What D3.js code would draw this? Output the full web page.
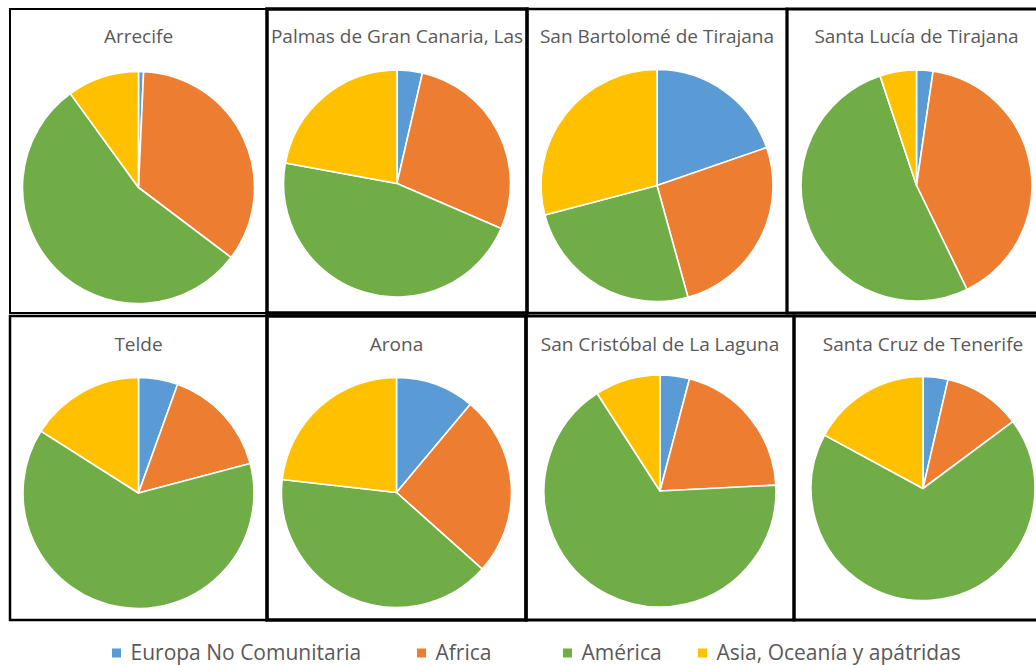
<!DOCTYPE html>
<html>
<head>
<meta charset="utf-8">
<script src="https://cdn.jsdelivr.net/npm/d3@7"></script>
<style>
  body { margin: 0; background: #fff; }
  svg { display: block; font-family: "Open Sans", "Noto Sans", sans-serif; }
</style>
</head>
<body>
<svg id="pies" width="1036" height="665"></svg>
<script>
// Municipalities (one pie each, reading order)
var municipios = ["Arrecife", "Palmas de Gran Canaria, Las", "San Bartolomé de Tirajana",
  "Santa Lucía de Tirajana", "Telde", "Arona", "San Cristóbal de La Laguna",
  "Santa Cruz de Tenerife"];

// Share (%) of each origin group per municipality
var europa  = [0.7, 3.6, 19.7, 2.3, 5.5, 11.1, 4.1, 3.6];
var africa  = [34.6, 27.9, 26.0, 40.5, 15.4, 25.5, 20.1, 11.2];
var america = [54.7, 46.4, 25.2, 52.1, 63.1, 40.2, 66.7, 68.1];
var asia    = [10.0, 22.1, 29.1, 5.1, 16.0, 23.2, 9.1, 17.1];

var grupos = ["Europa No Comunitaria", "Africa", "América", "Asia, Oceanía y apátridas"];
var series = [europa, africa, america, asia];

var colour = d3.scaleOrdinal()
  .domain(grupos)
  .range(["#5B9BD5", "#ED7D31", "#70AD47", "#FFC000"]);

// Panel frames (the boxes are a bit uneven, like the pasted original)
var rows = [
  { top: 9, bottom: 313, cols: [10, 267, 527, 787, 1046], sw: [2, 3.5, 2.5, 3],
    cy: [187.5, 183.5, 185.5, 185.5], r: [116, 113.5, 116, 115.5], ty: 43 },
  { top: 316, bottom: 620, cols: [10, 267, 526, 794, 1052], sw: [2.5, 3.5, 3, 3],
    cy: [493, 492.5, 491, 488.5], r: [115.5, 115, 116, 112], ty: 351 }
];

var svg = d3.select("#pies");

var pie = d3.pie()
  .value(function(d) { return d.value; })
  .sort(null);

municipios.forEach(function(name, i) {
  var row = rows[Math.floor(i / 4)],
    c = i % 4,
    x0 = row.cols[c],
    x1 = row.cols[c + 1],
    cx = (x0 + x1) / 2;

  var arc = d3.arc()
    .innerRadius(0)
    .outerRadius(row.r[c]);

  var panel = svg.append("g").attr("class", "panel");

  // slices
  var data = grupos.map(function(g, k) {
    return { grupo: g, value: series[k][i] };
  });

  panel.append("g")
    .attr("transform", "translate(" + cx + "," + row.cy[c] + ")")
    .selectAll("path")
    .data(pie(data))
    .enter().append("path")
    .attr("d", arc)
    .attr("fill", function(d) { return colour(d.data.grupo); })
    .attr("stroke", "#fff")
    .attr("stroke-width", 1.6)
    .attr("stroke-linejoin", "round");

  // title
  panel.append("text")
    .attr("x", cx)
    .attr("y", row.ty)
    .attr("text-anchor", "middle")
    .attr("fill", "#595959")
    .style("font-size", "19px")
    .text(name);

  // frame
  panel.append("rect")
    .attr("x", x0)
    .attr("y", row.top)
    .attr("width", x1 - x0)
    .attr("height", row.bottom - row.top)
    .attr("fill", "none")
    .attr("stroke", "#000")
    .attr("stroke-width", row.sw[c]);
});

// Legend along the bottom
var legendX = [112, 417, 563, 698];

var legendG = svg.selectAll(".legend")
  .data(grupos)
  .enter().append("g")
  .attr("class", "legend")
  .attr("transform", function(d, i) {
    return "translate(" + legendX[i] + ",648.5)";
  });

legendG.append("rect")
  .attr("width", 9)
  .attr("height", 9)
  .attr("fill", function(d) { return colour(d); });

legendG.append("text")
  .text(function(d) { return d; })
  .attr("x", 18.5)
  .attr("y", 11)
  .attr("fill", "#595959")
  .style("font-size", "21px");
</script>
</body>
</html>
